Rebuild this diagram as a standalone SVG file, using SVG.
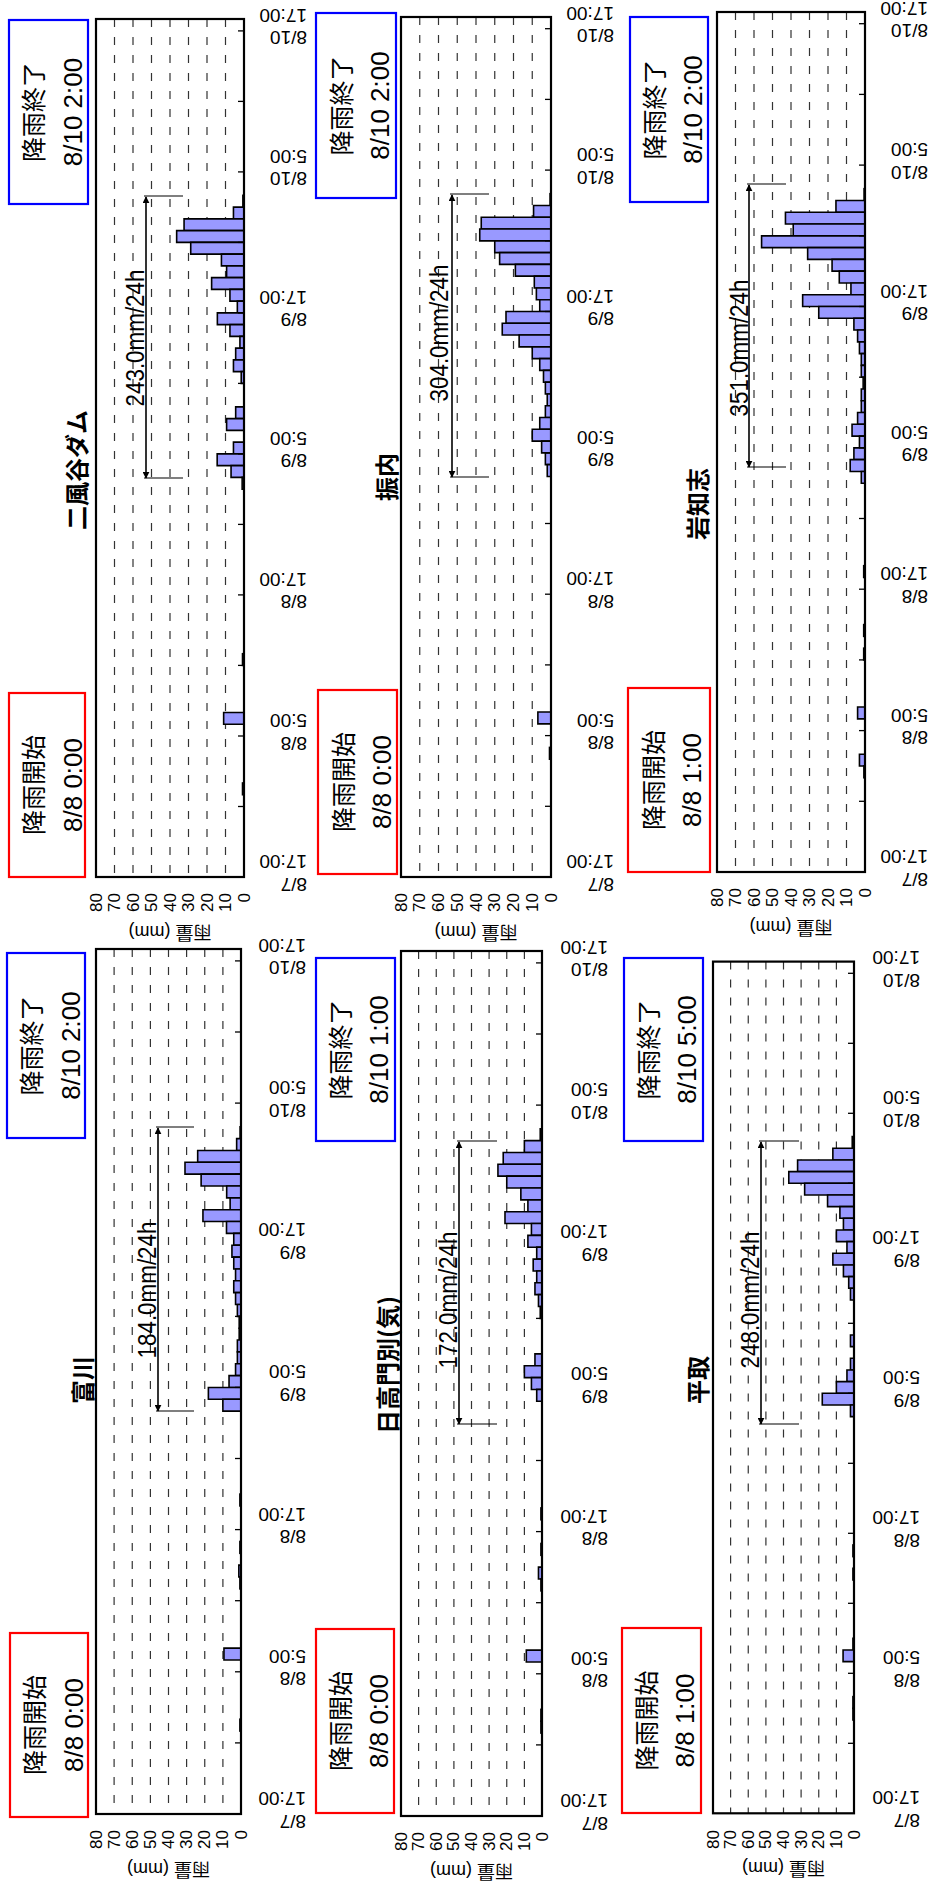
<svg xmlns="http://www.w3.org/2000/svg" width="936" height="1890" viewBox="0 0 936 1890">
<style>
.frame{fill:none;stroke:#000;stroke-width:2.2}
.grid{stroke:#333;stroke-width:1.2;stroke-dasharray:8 10}
.tick{stroke:#000;stroke-width:1.3}
.bar{fill:#9999ff;stroke:#000;stroke-width:1.6;vector-effect:non-scaling-stroke}
.tl{font-family:"Liberation Sans",Arial,sans-serif;font-size:19px;fill:#000}
.vl{font-family:"Liberation Sans",Arial,sans-serif;font-size:17px;fill:#000}
.yt{font-family:"Liberation Sans","Noto Sans CJK JP",sans-serif;font-size:18px;fill:#000}
.ttl{font-family:"Noto Sans CJK JP",sans-serif;font-size:24px;font-weight:bold;fill:#000}
.bx1{font-family:"Noto Sans CJK JP",sans-serif;font-size:25px;fill:#000}
.bx2{font-family:"Liberation Sans",Arial,sans-serif;font-size:26px;fill:#000}
.ann{font-family:"Liberation Sans",Arial,sans-serif;font-size:26px;fill:#000}
.blue{fill:#fff;stroke:#0000ff;stroke-width:2.2}
.red{fill:#fff;stroke:#ff0000;stroke-width:2.2}
.arr{stroke:#000;stroke-width:1.6;fill:none}
.endl{stroke:#000;stroke-width:1.2}
</style>
<defs>
<marker id="ah" viewBox="0 0 10 10" refX="9" refY="5" markerWidth="7" markerHeight="7" markerUnits="userSpaceOnUse" orient="auto-start-reverse"><path d="M0,0 L10,5 L0,10 z" fill="#000"/></marker>
</defs>

<!-- ===== Chart 二風谷ダム ===== -->
<g id="chart-nibutani">
<rect class="blue" x="9" y="20" width="79" height="184"/>
<text class="bx1" transform="translate(32,112) rotate(-90)" text-anchor="middle" dominant-baseline="central">降雨終了</text>
<text class="bx2" transform="translate(72.5,112) rotate(-90)" text-anchor="middle" dominant-baseline="central">8/10 2:00</text>
<rect class="red" x="9" y="693" width="76" height="184"/>
<text class="bx1" transform="translate(32,785) rotate(-90)" text-anchor="middle" dominant-baseline="central">降雨開始</text>
<text class="bx2" transform="translate(72.5,785) rotate(-90)" text-anchor="middle" dominant-baseline="central">8/8 0:00</text>
<text class="ttl" transform="translate(75,470) rotate(-90)" text-anchor="middle" dominant-baseline="central">二風谷ダム</text>
<g>
<line class="grid" x1="225.5" y1="19" x2="225.5" y2="877"/><line class="grid" x1="207" y1="19" x2="207" y2="877"/><line class="grid" x1="188.5" y1="19" x2="188.5" y2="877"/><line class="grid" x1="170" y1="19" x2="170" y2="877"/><line class="grid" x1="151.5" y1="19" x2="151.5" y2="877"/><line class="grid" x1="133" y1="19" x2="133" y2="877"/><line class="grid" x1="114.5" y1="19" x2="114.5" y2="877"/>
</g>
<g transform="translate(244,877) scale(1.85,-11.753)">
<rect class="bar" x="-0.6" y="57" width="0.6" height="1"/><rect class="bar" x="-5.7" y="56" width="5.7" height="1"/><rect class="bar" x="-32.4" y="55" width="32.4" height="1"/><rect class="bar" x="-36.4" y="54" width="36.4" height="1"/><rect class="bar" x="-28.8" y="53" width="28.8" height="1"/><rect class="bar" x="-12.2" y="52" width="12.2" height="1"/><rect class="bar" x="-9.4" y="51" width="9.4" height="1"/><rect class="bar" x="-17.5" y="50" width="17.5" height="1"/><rect class="bar" x="-7.6" y="49" width="7.6" height="1"/><rect class="bar" x="-3.6" y="48" width="3.6" height="1"/><rect class="bar" x="-14.4" y="47" width="14.4" height="1"/><rect class="bar" x="-7.6" y="46" width="7.6" height="1"/><rect class="bar" x="-2.2" y="45" width="2.2" height="1"/><rect class="bar" x="-4.5" y="44" width="4.5" height="1"/><rect class="bar" x="-5.7" y="43" width="5.7" height="1"/><rect class="bar" x="-1.5" y="42" width="1.5" height="1"/><rect class="bar" x="-4.5" y="39" width="4.5" height="1"/><rect class="bar" x="-9.4" y="38" width="9.4" height="1"/><rect class="bar" x="-5.7" y="36" width="5.7" height="1"/><rect class="bar" x="-14.5" y="35" width="14.5" height="1"/><rect class="bar" x="-7" y="34" width="7" height="1"/><rect class="bar" x="-1" y="33" width="1" height="1"/><rect class="bar" x="-0.8" y="18" width="0.8" height="1"/><rect class="bar" x="-11" y="13" width="11" height="1"/><rect class="bar" x="-0.8" y="7" width="0.8" height="1"/>
</g>
<rect class="frame" x="96" y="19" width="148" height="858"/>
<g>
<line class="tick" x1="238" y1="806.5" x2="244" y2="806.5"/><line class="tick" x1="238" y1="736" x2="244" y2="736"/><line class="tick" x1="238" y1="665.4" x2="244" y2="665.4"/><line class="tick" x1="238" y1="594.9" x2="244" y2="594.9"/><line class="tick" x1="238" y1="524.4" x2="244" y2="524.4"/><line class="tick" x1="238" y1="453.9" x2="244" y2="453.9"/><line class="tick" x1="238" y1="383.4" x2="244" y2="383.4"/><line class="tick" x1="238" y1="312.9" x2="244" y2="312.9"/><line class="tick" x1="238" y1="242.4" x2="244" y2="242.4"/><line class="tick" x1="238" y1="171.9" x2="244" y2="171.9"/><line class="tick" x1="238" y1="101.4" x2="244" y2="101.4"/><line class="tick" x1="238" y1="30.9" x2="244" y2="30.9"/>
</g>
<g class="tl" dominant-baseline="central">
<text transform="translate(307,861.5) rotate(180)">17:00</text><text transform="translate(307,884) rotate(180)">8/7</text>
<text transform="translate(307,720.5) rotate(180)">5:00</text><text transform="translate(307,743) rotate(180)">8/8</text>
<text transform="translate(307,579.4) rotate(180)">17:00</text><text transform="translate(307,601.9) rotate(180)">8/8</text>
<text transform="translate(307,438.4) rotate(180)">5:00</text><text transform="translate(307,460.9) rotate(180)">8/9</text>
<text transform="translate(307,297.4) rotate(180)">17:00</text><text transform="translate(307,319.9) rotate(180)">8/9</text>
<text transform="translate(307,156.4) rotate(180)">5:00</text><text transform="translate(307,178.9) rotate(180)">8/10</text>
<text transform="translate(307,15.4) rotate(180)">17:00</text><text transform="translate(307,37.9) rotate(180)">8/10</text>
</g>
<g class="vl" text-anchor="end" dominant-baseline="central">
<text transform="translate(244,893) rotate(-90)">0</text><text transform="translate(225.5,893) rotate(-90)">10</text><text transform="translate(207,893) rotate(-90)">20</text><text transform="translate(188.5,893) rotate(-90)">30</text><text transform="translate(170,893) rotate(-90)">40</text><text transform="translate(151.5,893) rotate(-90)">50</text><text transform="translate(133,893) rotate(-90)">60</text><text transform="translate(114.5,893) rotate(-90)">70</text><text transform="translate(96,893) rotate(-90)">80</text>
</g>
<text class="yt" transform="translate(170,932) rotate(180)" text-anchor="middle" dominant-baseline="central">雨量 (mm)</text>
</g>

<!-- ===== Chart 富川 ===== -->
<g id="chart-tomikawa">
<rect class="blue" x="7" y="953" width="78" height="185"/>
<text class="bx1" transform="translate(30,1045.5) rotate(-90)" text-anchor="middle" dominant-baseline="central">降雨終了</text>
<text class="bx2" transform="translate(70.5,1045.5) rotate(-90)" text-anchor="middle" dominant-baseline="central">8/10 2:00</text>
<rect class="red" x="10" y="1633" width="78" height="184"/>
<text class="bx1" transform="translate(33,1725) rotate(-90)" text-anchor="middle" dominant-baseline="central">降雨開始</text>
<text class="bx2" transform="translate(73.5,1725) rotate(-90)" text-anchor="middle" dominant-baseline="central">8/8 0:00</text>
<text class="ttl" transform="translate(81,1380) rotate(-90)" text-anchor="middle" dominant-baseline="central">富川</text>
<g>
<line class="grid" x1="222.9" y1="949" x2="222.9" y2="1814"/><line class="grid" x1="204.75" y1="949" x2="204.75" y2="1814"/><line class="grid" x1="186.6" y1="949" x2="186.6" y2="1814"/><line class="grid" x1="168.5" y1="949" x2="168.5" y2="1814"/><line class="grid" x1="150.4" y1="949" x2="150.4" y2="1814"/><line class="grid" x1="132.25" y1="949" x2="132.25" y2="1814"/><line class="grid" x1="114.1" y1="949" x2="114.1" y2="1814"/>
</g>
<g transform="translate(241,1814) scale(1.8125,-11.849)">
<rect class="bar" x="-0.5" y="57" width="0.5" height="1"/><rect class="bar" x="-2.4" y="56" width="2.4" height="1"/><rect class="bar" x="-23.9" y="55" width="23.9" height="1"/><rect class="bar" x="-30.9" y="54" width="30.9" height="1"/><rect class="bar" x="-22" y="53" width="22" height="1"/><rect class="bar" x="-7.9" y="52" width="7.9" height="1"/><rect class="bar" x="-6" y="51" width="6" height="1"/><rect class="bar" x="-21" y="50" width="21" height="1"/><rect class="bar" x="-8" y="49" width="8" height="1"/><rect class="bar" x="-4" y="48" width="4" height="1"/><rect class="bar" x="-5" y="47" width="5" height="1"/><rect class="bar" x="-4" y="46" width="4" height="1"/><rect class="bar" x="-3" y="45" width="3" height="1"/><rect class="bar" x="-4" y="44" width="4" height="1"/><rect class="bar" x="-3" y="43" width="3" height="1"/><rect class="bar" x="-2" y="42" width="2" height="1"/><rect class="bar" x="-1" y="41" width="1" height="1"/><rect class="bar" x="-1" y="40" width="1" height="1"/><rect class="bar" x="-2" y="39" width="2" height="1"/><rect class="bar" x="-2" y="38" width="2" height="1"/><rect class="bar" x="-3" y="37" width="3" height="1"/><rect class="bar" x="-6.6" y="36" width="6.6" height="1"/><rect class="bar" x="-18" y="35" width="18" height="1"/><rect class="bar" x="-10" y="34" width="10" height="1"/><rect class="bar" x="-0.6" y="26" width="0.6" height="1"/><rect class="bar" x="-0.6" y="22" width="0.6" height="1"/><rect class="bar" x="-1.2" y="20" width="1.2" height="1"/><rect class="bar" x="-0.6" y="19" width="0.6" height="1"/><rect class="bar" x="-9.4" y="13" width="9.4" height="1"/><rect class="bar" x="-0.6" y="7" width="0.6" height="1"/>
</g>
<rect class="frame" x="96" y="949" width="145" height="865"/>
<g>
<line class="tick" x1="235" y1="1742.9" x2="241" y2="1742.9"/><line class="tick" x1="235" y1="1671.8" x2="241" y2="1671.8"/><line class="tick" x1="235" y1="1600.7" x2="241" y2="1600.7"/><line class="tick" x1="235" y1="1529.6" x2="241" y2="1529.6"/><line class="tick" x1="235" y1="1458.5" x2="241" y2="1458.5"/><line class="tick" x1="235" y1="1387.4" x2="241" y2="1387.4"/><line class="tick" x1="235" y1="1316.4" x2="241" y2="1316.4"/><line class="tick" x1="235" y1="1245.3" x2="241" y2="1245.3"/><line class="tick" x1="235" y1="1174.2" x2="241" y2="1174.2"/><line class="tick" x1="235" y1="1103.1" x2="241" y2="1103.1"/><line class="tick" x1="235" y1="1032" x2="241" y2="1032"/><line class="tick" x1="235" y1="960.9" x2="241" y2="960.9"/>
</g>
<g class="tl" dominant-baseline="central">
<text transform="translate(306,1798.5) rotate(180)">17:00</text><text transform="translate(306,1821) rotate(180)">8/7</text>
<text transform="translate(306,1656.3) rotate(180)">5:00</text><text transform="translate(306,1678.8) rotate(180)">8/8</text>
<text transform="translate(306,1514.1) rotate(180)">17:00</text><text transform="translate(306,1536.6) rotate(180)">8/8</text>
<text transform="translate(306,1371.9) rotate(180)">5:00</text><text transform="translate(306,1394.4) rotate(180)">8/9</text>
<text transform="translate(306,1229.8) rotate(180)">17:00</text><text transform="translate(306,1252.3) rotate(180)">8/9</text>
<text transform="translate(306,1087.6) rotate(180)">5:00</text><text transform="translate(306,1110.1) rotate(180)">8/10</text>
<text transform="translate(306,945.4) rotate(180)">17:00</text><text transform="translate(306,967.9) rotate(180)">8/10</text>
</g>
<g class="vl" text-anchor="end" dominant-baseline="central">
<text transform="translate(241,1830) rotate(-90)">0</text><text transform="translate(222.9,1830) rotate(-90)">10</text><text transform="translate(204.75,1830) rotate(-90)">20</text><text transform="translate(186.6,1830) rotate(-90)">30</text><text transform="translate(168.5,1830) rotate(-90)">40</text><text transform="translate(150.4,1830) rotate(-90)">50</text><text transform="translate(132.25,1830) rotate(-90)">60</text><text transform="translate(114.1,1830) rotate(-90)">70</text><text transform="translate(96,1830) rotate(-90)">80</text>
</g>
<text class="yt" transform="translate(168.5,1869) rotate(180)" text-anchor="middle" dominant-baseline="central">雨量 (mm)</text>
</g>

<!-- ===== Chart 振内 ===== -->
<g id="chart-furenai">
<rect class="blue" x="316" y="13" width="80" height="185"/>
<text class="bx1" transform="translate(339.5,105.5) rotate(-90)" text-anchor="middle" dominant-baseline="central">降雨終了</text>
<text class="bx2" transform="translate(379.5,105.5) rotate(-90)" text-anchor="middle" dominant-baseline="central">8/10 2:00</text>
<rect class="red" x="318" y="690" width="79" height="184"/>
<text class="bx1" transform="translate(341.5,782) rotate(-90)" text-anchor="middle" dominant-baseline="central">降雨開始</text>
<text class="bx2" transform="translate(381.5,782) rotate(-90)" text-anchor="middle" dominant-baseline="central">8/8 0:00</text>
<text class="ttl" transform="translate(385,477) rotate(-90)" text-anchor="middle" dominant-baseline="central">振内</text>
<g>
<line class="grid" x1="532.25" y1="17" x2="532.25" y2="877"/><line class="grid" x1="513.5" y1="17" x2="513.5" y2="877"/><line class="grid" x1="494.75" y1="17" x2="494.75" y2="877"/><line class="grid" x1="476" y1="17" x2="476" y2="877"/><line class="grid" x1="457.25" y1="17" x2="457.25" y2="877"/><line class="grid" x1="438.5" y1="17" x2="438.5" y2="877"/><line class="grid" x1="419.75" y1="17" x2="419.75" y2="877"/>
</g>
<g transform="translate(551,877) scale(1.875,-11.781)">
<rect class="bar" x="-0.5" y="57" width="0.5" height="1"/><rect class="bar" x="-9.3" y="56" width="9.3" height="1"/><rect class="bar" x="-37.2" y="55" width="37.2" height="1"/><rect class="bar" x="-38" y="54" width="38" height="1"/><rect class="bar" x="-30" y="53" width="30" height="1"/><rect class="bar" x="-27.4" y="52" width="27.4" height="1"/><rect class="bar" x="-19" y="51" width="19" height="1"/><rect class="bar" x="-8.9" y="50" width="8.9" height="1"/><rect class="bar" x="-7.8" y="49" width="7.8" height="1"/><rect class="bar" x="-6" y="48" width="6" height="1"/><rect class="bar" x="-24" y="47" width="24" height="1"/><rect class="bar" x="-26" y="46" width="26" height="1"/><rect class="bar" x="-17" y="45" width="17" height="1"/><rect class="bar" x="-10" y="44" width="10" height="1"/><rect class="bar" x="-6" y="43" width="6" height="1"/><rect class="bar" x="-4" y="42" width="4" height="1"/><rect class="bar" x="-3" y="41" width="3" height="1"/><rect class="bar" x="-2" y="40" width="2" height="1"/><rect class="bar" x="-3" y="39" width="3" height="1"/><rect class="bar" x="-6" y="38" width="6" height="1"/><rect class="bar" x="-10" y="37" width="10" height="1"/><rect class="bar" x="-5" y="36" width="5" height="1"/><rect class="bar" x="-3" y="35" width="3" height="1"/><rect class="bar" x="-2" y="34" width="2" height="1"/><rect class="bar" x="-7" y="13" width="7" height="1"/><rect class="bar" x="-0.8" y="10" width="0.8" height="1"/>
</g>
<rect class="frame" x="401" y="17" width="150" height="860"/>
<g>
<line class="tick" x1="545" y1="806.3" x2="551" y2="806.3"/><line class="tick" x1="545" y1="735.6" x2="551" y2="735.6"/><line class="tick" x1="545" y1="664.9" x2="551" y2="664.9"/><line class="tick" x1="545" y1="594.2" x2="551" y2="594.2"/><line class="tick" x1="545" y1="523.5" x2="551" y2="523.5"/><line class="tick" x1="545" y1="452.9" x2="551" y2="452.9"/><line class="tick" x1="545" y1="382.2" x2="551" y2="382.2"/><line class="tick" x1="545" y1="311.5" x2="551" y2="311.5"/><line class="tick" x1="545" y1="240.8" x2="551" y2="240.8"/><line class="tick" x1="545" y1="170.1" x2="551" y2="170.1"/><line class="tick" x1="545" y1="99.4" x2="551" y2="99.4"/><line class="tick" x1="545" y1="28.7" x2="551" y2="28.7"/>
</g>
<g class="tl" dominant-baseline="central">
<text transform="translate(614,861.5) rotate(180)">17:00</text><text transform="translate(614,884) rotate(180)">8/7</text>
<text transform="translate(614,720.1) rotate(180)">5:00</text><text transform="translate(614,742.6) rotate(180)">8/8</text>
<text transform="translate(614,578.7) rotate(180)">17:00</text><text transform="translate(614,601.2) rotate(180)">8/8</text>
<text transform="translate(614,437.4) rotate(180)">5:00</text><text transform="translate(614,459.9) rotate(180)">8/9</text>
<text transform="translate(614,296) rotate(180)">17:00</text><text transform="translate(614,318.5) rotate(180)">8/9</text>
<text transform="translate(614,154.6) rotate(180)">5:00</text><text transform="translate(614,177.1) rotate(180)">8/10</text>
<text transform="translate(614,13.2) rotate(180)">17:00</text><text transform="translate(614,35.7) rotate(180)">8/10</text>
</g>
<g class="vl" text-anchor="end" dominant-baseline="central">
<text transform="translate(551,893) rotate(-90)">0</text><text transform="translate(532.25,893) rotate(-90)">10</text><text transform="translate(513.5,893) rotate(-90)">20</text><text transform="translate(494.75,893) rotate(-90)">30</text><text transform="translate(476,893) rotate(-90)">40</text><text transform="translate(457.25,893) rotate(-90)">50</text><text transform="translate(438.5,893) rotate(-90)">60</text><text transform="translate(419.75,893) rotate(-90)">70</text><text transform="translate(401,893) rotate(-90)">80</text>
</g>
<text class="yt" transform="translate(476,932) rotate(180)" text-anchor="middle" dominant-baseline="central">雨量 (mm)</text>
</g>

<!-- ===== Chart 日高門別(気) ===== -->
<g id="chart-hidakamonbetsu">
<rect class="blue" x="316" y="958" width="79" height="183"/>
<text class="bx1" transform="translate(339,1049.5) rotate(-90)" text-anchor="middle" dominant-baseline="central">降雨終了</text>
<text class="bx2" transform="translate(379,1049.5) rotate(-90)" text-anchor="middle" dominant-baseline="central">8/10 1:00</text>
<rect class="red" x="316" y="1629" width="78" height="184"/>
<text class="bx1" transform="translate(339,1721) rotate(-90)" text-anchor="middle" dominant-baseline="central">降雨開始</text>
<text class="bx2" transform="translate(379,1721) rotate(-90)" text-anchor="middle" dominant-baseline="central">8/8 0:00</text>
<text class="ttl" transform="translate(386,1365) rotate(-90)" text-anchor="middle" dominant-baseline="central">日高門別(気)</text>
<g>
<line class="grid" x1="524.4" y1="951" x2="524.4" y2="1816"/><line class="grid" x1="506.75" y1="951" x2="506.75" y2="1816"/><line class="grid" x1="489.1" y1="951" x2="489.1" y2="1816"/><line class="grid" x1="471.5" y1="951" x2="471.5" y2="1816"/><line class="grid" x1="453.9" y1="951" x2="453.9" y2="1816"/><line class="grid" x1="436.25" y1="951" x2="436.25" y2="1816"/><line class="grid" x1="418.6" y1="951" x2="418.6" y2="1816"/>
</g>
<g transform="translate(542,1816) scale(1.7625,-11.849)">
<rect class="bar" x="-1" y="57" width="1" height="1"/><rect class="bar" x="-10" y="56" width="10" height="1"/><rect class="bar" x="-22" y="55" width="22" height="1"/><rect class="bar" x="-25" y="54" width="25" height="1"/><rect class="bar" x="-20" y="53" width="20" height="1"/><rect class="bar" x="-12" y="52" width="12" height="1"/><rect class="bar" x="-8" y="51" width="8" height="1"/><rect class="bar" x="-21" y="50" width="21" height="1"/><rect class="bar" x="-6" y="49" width="6" height="1"/><rect class="bar" x="-8" y="48" width="8" height="1"/><rect class="bar" x="-3" y="47" width="3" height="1"/><rect class="bar" x="-5" y="46" width="5" height="1"/><rect class="bar" x="-3" y="45" width="3" height="1"/><rect class="bar" x="-4" y="44" width="4" height="1"/><rect class="bar" x="-2" y="43" width="2" height="1"/><rect class="bar" x="-1" y="42" width="1" height="1"/><rect class="bar" x="-4" y="38" width="4" height="1"/><rect class="bar" x="-10" y="37" width="10" height="1"/><rect class="bar" x="-6" y="36" width="6" height="1"/><rect class="bar" x="-3" y="35" width="3" height="1"/><rect class="bar" x="-0.6" y="25" width="0.6" height="1"/><rect class="bar" x="-0.6" y="22" width="0.6" height="1"/><rect class="bar" x="-2" y="20" width="2" height="1"/><rect class="bar" x="-0.6" y="19" width="0.6" height="1"/><rect class="bar" x="-8.9" y="13" width="8.9" height="1"/><rect class="bar" x="-0.6" y="8" width="0.6" height="1"/><rect class="bar" x="-0.6" y="7" width="0.6" height="1"/>
</g>
<rect class="frame" x="401" y="951" width="141" height="865"/>
<g>
<line class="tick" x1="536" y1="1744.9" x2="542" y2="1744.9"/><line class="tick" x1="536" y1="1673.8" x2="542" y2="1673.8"/><line class="tick" x1="536" y1="1602.7" x2="542" y2="1602.7"/><line class="tick" x1="536" y1="1531.6" x2="542" y2="1531.6"/><line class="tick" x1="536" y1="1460.5" x2="542" y2="1460.5"/><line class="tick" x1="536" y1="1389.4" x2="542" y2="1389.4"/><line class="tick" x1="536" y1="1318.4" x2="542" y2="1318.4"/><line class="tick" x1="536" y1="1247.3" x2="542" y2="1247.3"/><line class="tick" x1="536" y1="1176.2" x2="542" y2="1176.2"/><line class="tick" x1="536" y1="1105.1" x2="542" y2="1105.1"/><line class="tick" x1="536" y1="1034" x2="542" y2="1034"/><line class="tick" x1="536" y1="962.9" x2="542" y2="962.9"/>
</g>
<g class="tl" dominant-baseline="central">
<text transform="translate(608,1800.5) rotate(180)">17:00</text><text transform="translate(608,1823) rotate(180)">8/7</text>
<text transform="translate(608,1658.3) rotate(180)">5:00</text><text transform="translate(608,1680.8) rotate(180)">8/8</text>
<text transform="translate(608,1516.1) rotate(180)">17:00</text><text transform="translate(608,1538.6) rotate(180)">8/8</text>
<text transform="translate(608,1373.9) rotate(180)">5:00</text><text transform="translate(608,1396.4) rotate(180)">8/9</text>
<text transform="translate(608,1231.8) rotate(180)">17:00</text><text transform="translate(608,1254.3) rotate(180)">8/9</text>
<text transform="translate(608,1089.6) rotate(180)">5:00</text><text transform="translate(608,1112.1) rotate(180)">8/10</text>
<text transform="translate(608,947.4) rotate(180)">17:00</text><text transform="translate(608,969.9) rotate(180)">8/10</text>
</g>
<g class="vl" text-anchor="end" dominant-baseline="central">
<text transform="translate(542,1832) rotate(-90)">0</text><text transform="translate(524.4,1832) rotate(-90)">10</text><text transform="translate(506.75,1832) rotate(-90)">20</text><text transform="translate(489.1,1832) rotate(-90)">30</text><text transform="translate(471.5,1832) rotate(-90)">40</text><text transform="translate(453.9,1832) rotate(-90)">50</text><text transform="translate(436.25,1832) rotate(-90)">60</text><text transform="translate(418.6,1832) rotate(-90)">70</text><text transform="translate(401,1832) rotate(-90)">80</text>
</g>
<text class="yt" transform="translate(471.5,1871) rotate(180)" text-anchor="middle" dominant-baseline="central">雨量 (mm)</text>
</g>

<!-- ===== Chart 岩知志 ===== -->
<g id="chart-iwachishi">
<rect class="blue" x="630" y="17" width="78" height="185"/>
<text class="bx1" transform="translate(653,109.5) rotate(-90)" text-anchor="middle" dominant-baseline="central">降雨終了</text>
<text class="bx2" transform="translate(693,109.5) rotate(-90)" text-anchor="middle" dominant-baseline="central">8/10 2:00</text>
<rect class="red" x="628" y="688" width="82" height="184"/>
<text class="bx1" transform="translate(652,780) rotate(-90)" text-anchor="middle" dominant-baseline="central">降雨開始</text>
<text class="bx2" transform="translate(692,780) rotate(-90)" text-anchor="middle" dominant-baseline="central">8/8 1:00</text>
<text class="ttl" transform="translate(696,504) rotate(-90)" text-anchor="middle" dominant-baseline="central">岩知志</text>
<g>
<line class="grid" x1="846.5" y1="12" x2="846.5" y2="872"/><line class="grid" x1="828" y1="12" x2="828" y2="872"/><line class="grid" x1="809.5" y1="12" x2="809.5" y2="872"/><line class="grid" x1="791" y1="12" x2="791" y2="872"/><line class="grid" x1="772.5" y1="12" x2="772.5" y2="872"/><line class="grid" x1="754" y1="12" x2="754" y2="872"/><line class="grid" x1="735.5" y1="12" x2="735.5" y2="872"/>
</g>
<g transform="translate(865,872) scale(1.85,-11.781)">
<rect class="bar" x="-0.5" y="57" width="0.5" height="1"/><rect class="bar" x="-15.7" y="56" width="15.7" height="1"/><rect class="bar" x="-43" y="55" width="43" height="1"/><rect class="bar" x="-38.8" y="54" width="38.8" height="1"/><rect class="bar" x="-55.9" y="53" width="55.9" height="1"/><rect class="bar" x="-31" y="52" width="31" height="1"/><rect class="bar" x="-17.8" y="51" width="17.8" height="1"/><rect class="bar" x="-13.9" y="50" width="13.9" height="1"/><rect class="bar" x="-7.6" y="49" width="7.6" height="1"/><rect class="bar" x="-33.7" y="48" width="33.7" height="1"/><rect class="bar" x="-25" y="47" width="25" height="1"/><rect class="bar" x="-6" y="46" width="6" height="1"/><rect class="bar" x="-4" y="45" width="4" height="1"/><rect class="bar" x="-3" y="44" width="3" height="1"/><rect class="bar" x="-2" y="43" width="2" height="1"/><rect class="bar" x="-2" y="42" width="2" height="1"/><rect class="bar" x="-1" y="41" width="1" height="1"/><rect class="bar" x="-2" y="40" width="2" height="1"/><rect class="bar" x="-2" y="39" width="2" height="1"/><rect class="bar" x="-4" y="38" width="4" height="1"/><rect class="bar" x="-7" y="37" width="7" height="1"/><rect class="bar" x="-3" y="36" width="3" height="1"/><rect class="bar" x="-6" y="35" width="6" height="1"/><rect class="bar" x="-8" y="34" width="8" height="1"/><rect class="bar" x="-2" y="33" width="2" height="1"/><rect class="bar" x="-0.7" y="25" width="0.7" height="1"/><rect class="bar" x="-0.7" y="20" width="0.7" height="1"/><rect class="bar" x="-0.7" y="18" width="0.7" height="1"/><rect class="bar" x="-4" y="13" width="4" height="1"/><rect class="bar" x="-3" y="9" width="3" height="1"/><rect class="bar" x="-0.6" y="8" width="0.6" height="1"/>
</g>
<rect class="frame" x="717" y="12" width="148" height="860"/>
<g>
<line class="tick" x1="859" y1="801.3" x2="865" y2="801.3"/><line class="tick" x1="859" y1="730.6" x2="865" y2="730.6"/><line class="tick" x1="859" y1="659.9" x2="865" y2="659.9"/><line class="tick" x1="859" y1="589.2" x2="865" y2="589.2"/><line class="tick" x1="859" y1="518.5" x2="865" y2="518.5"/><line class="tick" x1="859" y1="447.9" x2="865" y2="447.9"/><line class="tick" x1="859" y1="377.2" x2="865" y2="377.2"/><line class="tick" x1="859" y1="306.5" x2="865" y2="306.5"/><line class="tick" x1="859" y1="235.8" x2="865" y2="235.8"/><line class="tick" x1="859" y1="165.1" x2="865" y2="165.1"/><line class="tick" x1="859" y1="94.4" x2="865" y2="94.4"/><line class="tick" x1="859" y1="23.7" x2="865" y2="23.7"/>
</g>
<g class="tl" dominant-baseline="central">
<text transform="translate(928,856.5) rotate(180)">17:00</text><text transform="translate(928,879) rotate(180)">8/7</text>
<text transform="translate(928,715.1) rotate(180)">5:00</text><text transform="translate(928,737.6) rotate(180)">8/8</text>
<text transform="translate(928,573.7) rotate(180)">17:00</text><text transform="translate(928,596.2) rotate(180)">8/8</text>
<text transform="translate(928,432.4) rotate(180)">5:00</text><text transform="translate(928,454.9) rotate(180)">8/9</text>
<text transform="translate(928,291) rotate(180)">17:00</text><text transform="translate(928,313.5) rotate(180)">8/9</text>
<text transform="translate(928,149.6) rotate(180)">5:00</text><text transform="translate(928,172.1) rotate(180)">8/10</text>
<text transform="translate(928,8.2) rotate(180)">17:00</text><text transform="translate(928,30.7) rotate(180)">8/10</text>
</g>
<g class="vl" text-anchor="end" dominant-baseline="central">
<text transform="translate(865,888) rotate(-90)">0</text><text transform="translate(846.5,888) rotate(-90)">10</text><text transform="translate(828,888) rotate(-90)">20</text><text transform="translate(809.5,888) rotate(-90)">30</text><text transform="translate(791,888) rotate(-90)">40</text><text transform="translate(772.5,888) rotate(-90)">50</text><text transform="translate(754,888) rotate(-90)">60</text><text transform="translate(735.5,888) rotate(-90)">70</text><text transform="translate(717,888) rotate(-90)">80</text>
</g>
<text class="yt" transform="translate(791,927) rotate(180)" text-anchor="middle" dominant-baseline="central">雨量 (mm)</text>
</g>

<!-- ===== Chart 平取 ===== -->
<g id="chart-biratori">
<rect class="blue" x="624" y="958" width="79" height="183"/>
<text class="bx1" transform="translate(647,1049.5) rotate(-90)" text-anchor="middle" dominant-baseline="central">降雨終了</text>
<text class="bx2" transform="translate(687,1049.5) rotate(-90)" text-anchor="middle" dominant-baseline="central">8/10 5:00</text>
<rect class="red" x="622" y="1628" width="79" height="185"/>
<text class="bx1" transform="translate(645,1720.5) rotate(-90)" text-anchor="middle" dominant-baseline="central">降雨開始</text>
<text class="bx2" transform="translate(685,1720.5) rotate(-90)" text-anchor="middle" dominant-baseline="central">8/8 1:00</text>
<text class="ttl" transform="translate(696,1380) rotate(-90)" text-anchor="middle" dominant-baseline="central">平取</text>
<g>
<line class="grid" x1="836.4" y1="961.6" x2="836.4" y2="1813.3"/><line class="grid" x1="818.75" y1="961.6" x2="818.75" y2="1813.3"/><line class="grid" x1="801.1" y1="961.6" x2="801.1" y2="1813.3"/><line class="grid" x1="783.5" y1="961.6" x2="783.5" y2="1813.3"/><line class="grid" x1="765.9" y1="961.6" x2="765.9" y2="1813.3"/><line class="grid" x1="748.25" y1="961.6" x2="748.25" y2="1813.3"/><line class="grid" x1="730.6" y1="961.6" x2="730.6" y2="1813.3"/>
</g>
<g transform="translate(854,1813.3) scale(1.7625,-11.667)">
<rect class="bar" x="-1" y="57" width="1" height="1"/><rect class="bar" x="-12" y="56" width="12" height="1"/><rect class="bar" x="-32" y="55" width="32" height="1"/><rect class="bar" x="-37" y="54" width="37" height="1"/><rect class="bar" x="-28" y="53" width="28" height="1"/><rect class="bar" x="-15" y="52" width="15" height="1"/><rect class="bar" x="-8" y="51" width="8" height="1"/><rect class="bar" x="-6" y="50" width="6" height="1"/><rect class="bar" x="-10" y="49" width="10" height="1"/><rect class="bar" x="-4" y="48" width="4" height="1"/><rect class="bar" x="-12" y="47" width="12" height="1"/><rect class="bar" x="-6" y="46" width="6" height="1"/><rect class="bar" x="-3" y="45" width="3" height="1"/><rect class="bar" x="-2" y="44" width="2" height="1"/><rect class="bar" x="-2" y="40" width="2" height="1"/><rect class="bar" x="-2" y="38" width="2" height="1"/><rect class="bar" x="-4" y="37" width="4" height="1"/><rect class="bar" x="-10" y="36" width="10" height="1"/><rect class="bar" x="-18" y="35" width="18" height="1"/><rect class="bar" x="-2" y="34" width="2" height="1"/><rect class="bar" x="-0.6" y="22" width="0.6" height="1"/><rect class="bar" x="-0.6" y="20" width="0.6" height="1"/><rect class="bar" x="-0.6" y="14" width="0.6" height="1"/><rect class="bar" x="-6.2" y="13" width="6.2" height="1"/><rect class="bar" x="-0.6" y="9" width="0.6" height="1"/><rect class="bar" x="-0.6" y="8" width="0.6" height="1"/>
</g>
<rect class="frame" x="713" y="961.6" width="141" height="851.7"/>
<g>
<line class="tick" x1="848" y1="1743.3" x2="854" y2="1743.3"/><line class="tick" x1="848" y1="1673.3" x2="854" y2="1673.3"/><line class="tick" x1="848" y1="1603.3" x2="854" y2="1603.3"/><line class="tick" x1="848" y1="1533.3" x2="854" y2="1533.3"/><line class="tick" x1="848" y1="1463.3" x2="854" y2="1463.3"/><line class="tick" x1="848" y1="1393.3" x2="854" y2="1393.3"/><line class="tick" x1="848" y1="1323.3" x2="854" y2="1323.3"/><line class="tick" x1="848" y1="1253.3" x2="854" y2="1253.3"/><line class="tick" x1="848" y1="1183.3" x2="854" y2="1183.3"/><line class="tick" x1="848" y1="1113.3" x2="854" y2="1113.3"/><line class="tick" x1="848" y1="1043.3" x2="854" y2="1043.3"/><line class="tick" x1="848" y1="973.3" x2="854" y2="973.3"/>
</g>
<g class="tl" dominant-baseline="central">
<text transform="translate(920,1797.8) rotate(180)">17:00</text><text transform="translate(920,1820.3) rotate(180)">8/7</text>
<text transform="translate(920,1657.8) rotate(180)">5:00</text><text transform="translate(920,1680.3) rotate(180)">8/8</text>
<text transform="translate(920,1517.8) rotate(180)">17:00</text><text transform="translate(920,1540.3) rotate(180)">8/8</text>
<text transform="translate(920,1377.8) rotate(180)">5:00</text><text transform="translate(920,1400.3) rotate(180)">8/9</text>
<text transform="translate(920,1237.8) rotate(180)">17:00</text><text transform="translate(920,1260.3) rotate(180)">8/9</text>
<text transform="translate(920,1097.8) rotate(180)">5:00</text><text transform="translate(920,1120.3) rotate(180)">8/10</text>
<text transform="translate(920,957.8) rotate(180)">17:00</text><text transform="translate(920,980.3) rotate(180)">8/10</text>
</g>
<g class="vl" text-anchor="end" dominant-baseline="central">
<text transform="translate(854,1830) rotate(-90)">0</text><text transform="translate(836.4,1830) rotate(-90)">10</text><text transform="translate(818.75,1830) rotate(-90)">20</text><text transform="translate(801.1,1830) rotate(-90)">30</text><text transform="translate(783.5,1830) rotate(-90)">40</text><text transform="translate(765.9,1830) rotate(-90)">50</text><text transform="translate(748.25,1830) rotate(-90)">60</text><text transform="translate(730.6,1830) rotate(-90)">70</text><text transform="translate(713,1830) rotate(-90)">80</text>
</g>
<text class="yt" transform="translate(783.5,1868) rotate(180)" text-anchor="middle" dominant-baseline="central">雨量 (mm)</text>
</g>

<!-- ===== 24h annotations ===== -->
<g id="connectors">
<line class="arr" x1="146" y1="478" x2="146" y2="197" marker-start="url(#ah)" marker-end="url(#ah)"/>
<line class="endl" x1="144" y1="196" x2="183" y2="196"/><line class="endl" x1="144" y1="478" x2="183" y2="478"/>
<line class="arr" x1="452" y1="477" x2="452" y2="195" marker-start="url(#ah)" marker-end="url(#ah)"/>
<line class="endl" x1="450" y1="194" x2="489" y2="194"/><line class="endl" x1="450" y1="477" x2="489" y2="477"/>
<line class="arr" x1="749" y1="467" x2="749" y2="185" marker-start="url(#ah)" marker-end="url(#ah)"/>
<line class="endl" x1="747" y1="184" x2="786" y2="184"/><line class="endl" x1="747" y1="467" x2="786" y2="467"/>
<line class="arr" x1="158" y1="1411" x2="158" y2="1128" marker-start="url(#ah)" marker-end="url(#ah)"/>
<line class="endl" x1="156" y1="1127" x2="194" y2="1127"/><line class="endl" x1="156" y1="1411" x2="194" y2="1411"/>
<line class="arr" x1="459" y1="1424" x2="459" y2="1142" marker-start="url(#ah)" marker-end="url(#ah)"/>
<line class="endl" x1="457" y1="1141" x2="497" y2="1141"/><line class="endl" x1="457" y1="1424" x2="497" y2="1424"/>
<line class="arr" x1="761" y1="1424" x2="761" y2="1142" marker-start="url(#ah)" marker-end="url(#ah)"/>
<line class="endl" x1="759" y1="1141" x2="799" y2="1141"/><line class="endl" x1="759" y1="1424" x2="799" y2="1424"/>
</g>
<g id="annotation-labels" class="ann" text-anchor="middle" dominant-baseline="central">
<text transform="translate(135,338) rotate(-90)" textLength="137" lengthAdjust="spacingAndGlyphs">243.0mm/24h</text>
<text transform="translate(439,333) rotate(-90)" textLength="137" lengthAdjust="spacingAndGlyphs">304.0mm/24h</text>
<text transform="translate(739,348) rotate(-90)" textLength="137" lengthAdjust="spacingAndGlyphs">351.0mm/24h</text>
<text transform="translate(147,1290) rotate(-90)" textLength="137" lengthAdjust="spacingAndGlyphs">184.0mm/24h</text>
<text transform="translate(448,1300) rotate(-90)" textLength="137" lengthAdjust="spacingAndGlyphs">172.0mm/24h</text>
<text transform="translate(750,1300) rotate(-90)" textLength="137" lengthAdjust="spacingAndGlyphs">248.0mm/24h</text>
</g>
</svg>
